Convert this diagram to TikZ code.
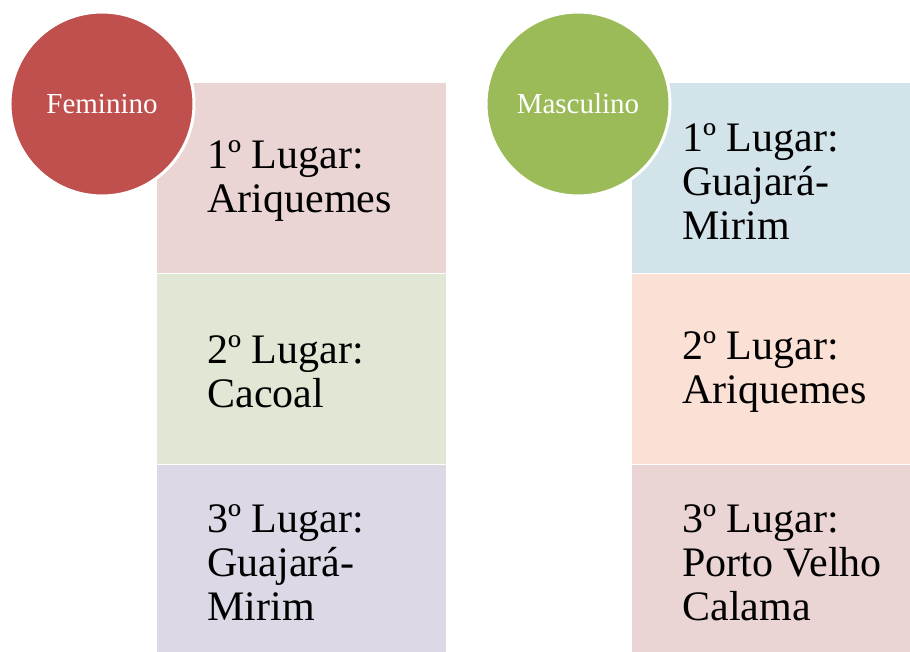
\documentclass[tikz,border=0pt]{standalone}
\usepackage{fontspec}
\setmainfont{Liberation Serif}
\usetikzlibrary{positioning}

\definecolor{femred}{HTML}{C0504D}
\definecolor{masgreen}{HTML}{9BBB59}
\definecolor{fillA}{HTML}{EAD4D4}
\definecolor{fillB}{HTML}{E0E8D5}
\definecolor{fillC}{HTML}{DCD8E5}
\definecolor{fillD}{HTML}{D3E3EA}
\definecolor{fillE}{HTML}{FBE0D6}

\tikzset{
  placebox/.style={rectangle, inner sep=0pt,
    minimum height=95pt},
  placetext/.style={anchor=west, inner sep=0pt, align=left, yshift=-1.5pt,
    font=\rmfamily\fontsize{21}{22}\selectfont},
  gender/.style={circle, inner sep=0pt, minimum size=92pt,
    draw=white, line width=1.5pt, text=white,
    font=\rmfamily\fontsize{14.5}{17}\selectfont}
}

\begin{document}
\begin{tikzpicture}[x=0.5pt, y=-0.5pt]

    \useasboundingbox (0,0) rectangle (910,652);

    % feminino
    \node[placebox, fill=fillA,
    minimum width=144.5pt,
    anchor=north west] (f1) at (157,83) {};

    \node[placebox, fill=fillB,
    minimum width=144.5pt,
    below=0pt of f1] (f2) {};

    \node[placebox, fill=fillC,
    minimum width=144.5pt,
    below=0pt of f2] (f3) {};

    \node[placetext, right=25pt of f1.west, anchor=west] (t1) {1º Lugar:\\Ariquemes};
    \node[placetext, right=25pt of f2.west, anchor=west] (t2) {2º Lugar:\\Cacoal};
    \node[placetext, right=25pt of f3.west, anchor=west] (t3) {3º Lugar:\\Guajará-\\Mirim};

    \node[gender, fill=femred] (fem) at (102,104) {Feminino};

    % masculino
    \node[placebox, fill=fillD,
    minimum width=139pt,
    anchor=north west] (m1) at (632,83) {};

    \node[placebox, fill=fillE,
    minimum width=139pt,
    below=0pt of m1] (m2) {};

    \node[placebox, fill=fillA,
    minimum width=139pt,
    below=0pt of m2] (m3) {};

    \node[placetext, right=25pt of m1.west, anchor=west] (s1) {1º Lugar:\\Guajará-\\Mirim};
    \node[placetext, right=25pt of m2.west, anchor=west] (s2) {2º Lugar:\\Ariquemes};
    \node[placetext, right=25pt of m3.west, anchor=west] (s3) {3º Lugar:\\Porto Velho\\Calama};

    \node[gender, fill=masgreen] (mas) at (578,104) {Masculino};

\end{tikzpicture}
\end{document}
